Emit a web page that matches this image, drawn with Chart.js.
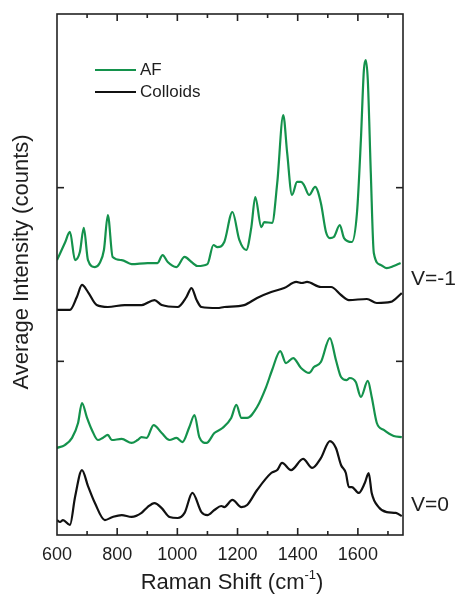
<!DOCTYPE html>
<html>
<head>
<meta charset="utf-8">
<title>Raman spectra</title>
<script src="https://cdn.jsdelivr.net/npm/chart.js@4.4.1/dist/chart.umd.min.js"></script>
<style>
    html, body { margin: 0; padding: 0; background: #fff; }
    #wrap { width: 460px; height: 599px; }
</style>
</head>
<body>
<div id="wrap"><canvas id="ramanChart" width="460" height="599"></canvas></div>
<script>
// Spectra (Raman shift in cm-1, intensity in offset counts)
const afTopShift = [600,626,643,660,676,689,703,726,742,756,769,785,815,848,901,934,951,968,997,1024,1047,1067,1100,1120,1133,1156,1183,1206,1229,1246,1259,1279,1289,1315,1332,1352,1365,1381,1398,1411,1421,1438,1458,1477,1494,1507,1520,1540,1554,1580,1597,1610,1620,1626,1633,1643,1653,1676,1696,1719,1742];
const afTopCounts = [1583,1681,1745,1583,1629,1768,1583,1543,1566,1641,1842,1601,1583,1560,1566,1566,1612,1572,1543,1601,1572,1549,1560,1670,1658,1687,1860,1699,1641,1773,1946,1773,1802,1797,2027,2418,2200,1958,2033,2033,2015,1958,2004,1912,1745,1710,1716,1785,1710,1687,1854,2274,2677,2735,2620,2084,1624,1555,1537,1549,1566];

const colTopShift = [600,643,666,683,703,732,769,825,881,924,948,1001,1030,1047,1064,1080,1133,1156,1222,1265,1312,1355,1395,1414,1431,1477,1511,1544,1570,1630,1663,1709,1746];
const colTopCounts = [1296,1296,1370,1440,1399,1324,1313,1324,1324,1353,1324,1313,1370,1422,1353,1313,1307,1313,1324,1365,1399,1422,1457,1451,1457,1428,1428,1382,1353,1359,1336,1342,1393];

const afLowShift = [600,626,650,670,683,699,716,736,752,769,782,815,848,868,881,898,921,948,974,997,1017,1040,1057,1073,1097,1123,1150,1179,1196,1213,1232,1265,1295,1315,1342,1361,1385,1411,1438,1454,1477,1507,1527,1544,1563,1573,1593,1610,1633,1646,1663,1686,1719,1746];
const afLowCounts = [501,518,559,645,760,679,605,547,559,576,547,553,530,547,564,559,633,587,547,559,535,622,691,564,530,587,616,674,749,674,674,737,852,950,1059,990,1019,962,933,967,996,1134,1008,910,892,904,881,795,887,795,645,605,570,564];

const colLowShift = [600,610,620,643,660,683,703,726,759,785,815,848,881,901,924,948,974,1001,1024,1050,1080,1100,1123,1146,1156,1183,1213,1232,1265,1312,1332,1348,1378,1418,1448,1477,1507,1527,1544,1560,1570,1580,1603,1623,1636,1646,1669,1696,1726,1746];
const colLowCounts = [86,75,86,58,219,374,282,184,86,104,115,104,127,161,184,155,104,98,127,242,132,115,144,167,161,202,161,173,259,357,374,415,374,438,386,443,541,501,403,357,276,276,242,299,357,242,161,132,127,109];

const xTicks = [600, 800, 1000, 1200, 1400, 1600];
const xMinorTicks = [700, 800, 900, 1000, 1100, 1200, 1300, 1400, 1500, 1600, 1700];
const yTicks = [1000, 2000];
const legendNames = ['AF', 'Colloids'];
const voltageLabels = ['V=-1', 'V=0'];

const greenColor = '#14924c';
const blackColor = '#111111';
const textColor = '#1e1e1e';
const fontFamily = '"Liberation Sans", Arial, sans-serif';

function toPoints(xs, ys) {
    return xs.map((x, i) => ({ x: x, y: ys[i] }));
}

function lineSet(label, xs, ys, color) {
    return {
        label: label,
        data: toPoints(xs, ys),
        borderColor: color,
        borderWidth: 2.2,
        pointRadius: 0,
        fill: false,
        cubicInterpolationMode: 'monotone'
    };
}

// Frame, inward ticks, titles, legend and voltage labels
const decorations = {
    id: 'decorations',
    afterDraw(chart) {
        const c = chart.ctx;
        const area = chart.chartArea;
        const xScale = chart.scales.x;
        const yScale = chart.scales.y;

        c.save();
        c.strokeStyle = '#222222';
        c.lineWidth = 1.6;
        c.strokeRect(area.left, area.top, area.right - area.left, area.bottom - area.top);

        // x ticks every 100, longer on every 200 (pointing inward, top and bottom)
        xMinorTicks.forEach(v => {
            const px = xScale.getPixelForValue(v);
            const len = (v % 200 === 0) ? 7 : 4;
            c.beginPath();
            c.moveTo(px, area.bottom);
            c.lineTo(px, area.bottom - len);
            c.stroke();
            c.beginPath();
            c.moveTo(px, area.top);
            c.lineTo(px, area.top + len);
            c.stroke();
        });
        // y ticks, both sides
        yTicks.forEach(v => {
            const py = yScale.getPixelForValue(v);
            c.beginPath();
            c.moveTo(area.left, py);
            c.lineTo(area.left + 7, py);
            c.stroke();
            c.beginPath();
            c.moveTo(area.right, py);
            c.lineTo(area.right - 7, py);
            c.stroke();
        });

        c.fillStyle = textColor;
        c.textBaseline = 'middle';

        // x title with superscript
        const main = 'Raman Shift (cm';
        const sup = '-1';
        const close = ')';
        c.font = '22px ' + fontFamily;
        const wMain = c.measureText(main).width;
        const wClose = c.measureText(close).width;
        c.font = '13px ' + fontFamily;
        const wSup = c.measureText(sup).width;
        let tx = 232 - (wMain + wSup + wClose) / 2;
        const ty = 583;
        c.textAlign = 'left';
        c.font = '22px ' + fontFamily;
        c.fillText(main, tx, ty);
        tx += wMain;
        c.font = '13px ' + fontFamily;
        c.fillText(sup, tx, ty - 8);
        tx += wSup;
        c.font = '22px ' + fontFamily;
        c.fillText(close, tx, ty);

        // y title
        c.save();
        c.translate(22, 262);
        c.rotate(-Math.PI / 2);
        c.textAlign = 'center';
        c.font = '22px ' + fontFamily;
        c.fillText('Average Intensity (counts)', 0, 0);
        c.restore();

        // legend
        const legendColors = [greenColor, blackColor];
        const legendY = [70, 92];
        c.font = '17px ' + fontFamily;
        c.textAlign = 'left';
        legendNames.forEach((name, i) => {
            c.strokeStyle = legendColors[i];
            c.lineWidth = 2.2;
            c.beginPath();
            c.moveTo(95, legendY[i]);
            c.lineTo(136, legendY[i]);
            c.stroke();
            c.fillStyle = textColor;
            c.fillText(name, 140, legendY[i]);
        });

        // voltage labels
        c.font = '21px ' + fontFamily;
        c.fillText(voltageLabels[0], 411, 279);
        c.fillText(voltageLabels[1], 411, 505);
        c.restore();
    }
};

const ctx = document.getElementById('ramanChart').getContext('2d');
const chart = new Chart(ctx, {
    type: 'line',
    plugins: [decorations],
    data: {
        datasets: [
            lineSet('AF', afTopShift, afTopCounts, greenColor),
            lineSet('Colloids', colTopShift, colTopCounts, blackColor),
            lineSet('AF V=0', afLowShift, afLowCounts, greenColor),
            lineSet('Colloids V=0', colLowShift, colLowCounts, blackColor)
        ]
    },
    options: {
        responsive: false,
        animation: false,
        layout: { padding: { top: 14, right: 57, left: 0, bottom: 0 } },
        plugins: {
            legend: { display: false },
            tooltip: { enabled: false }
        },
        scales: {
            x: {
                type: 'linear',
                min: 600,
                max: 1750,
                afterBuildTicks: scale => {
                    scale.ticks = xTicks.map(v => ({ value: v }));
                },
                afterFit: scale => { scale.height = 64; },
                ticks: {
                    color: textColor,
                    padding: 9,
                    maxRotation: 0,
                    autoSkip: false,
                    callback: value => String(value),
                    font: { size: 18, family: fontFamily }
                },
                grid: { display: false, drawTicks: false },
                border: { display: false }
            },
            y: {
                min: 0,
                max: 3000,
                afterFit: scale => { scale.width = 57; },
                ticks: { display: false },
                grid: { display: false, drawTicks: false },
                border: { display: false }
            }
        }
    }
});
</script>
</body>
</html>
